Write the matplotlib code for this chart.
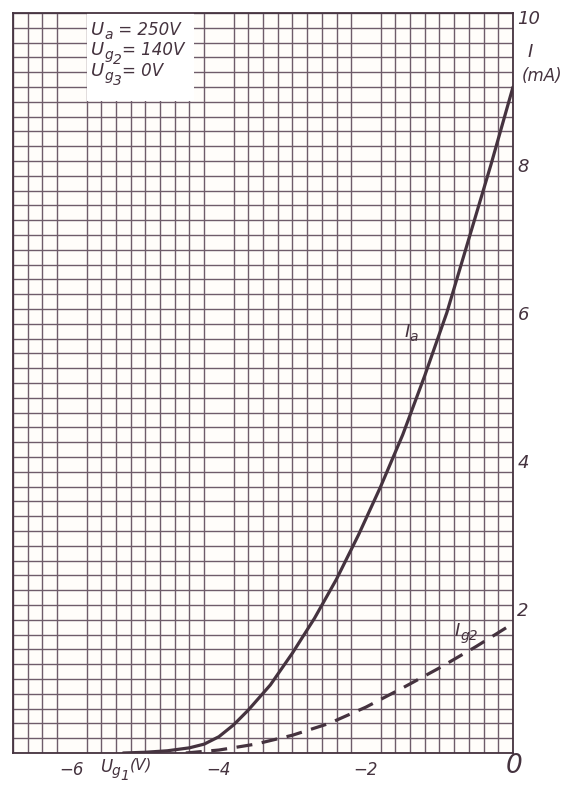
import matplotlib
matplotlib.use("Agg")
import matplotlib.pyplot as plt
import matplotlib.transforms as mtransforms
from matplotlib.patches import Rectangle
import numpy as np

plt.rcParams["font.family"] = ["DejaVu Sans"]

INK = "#45333f"
GRID = "#6e5c6a"

# anode current Ia (mA) vs control grid voltage Ug1 (V)
ug1_a = [-5.3, -5.0, -4.7, -4.4, -4.2, -4.0, -3.8, -3.6, -3.3, -3.0,
         -2.7, -2.4, -2.1, -1.8, -1.5, -1.2, -0.9, -0.6, -0.3, 0.0]
ia = [0.0, 0.01, 0.03, 0.07, 0.12, 0.22, 0.38, 0.58, 0.92, 1.35,
      1.82, 2.35, 2.95, 3.6, 4.3, 5.1, 5.95, 6.95, 7.95, 9.0]

# screen grid current Ig2 (mA)
ug1_g2 = [-4.45, -4.0, -3.5, -3.0, -2.5, -2.0, -1.5, -1.0, -0.5, 0.0]
ig2 = [0.0, 0.04, 0.12, 0.24, 0.40, 0.62, 0.88, 1.15, 1.44, 1.75]

x_ticks = [-6, -4, -2]
x_labels = ["\u22126", "\u22124", "\u22122"]
y_ticks = [2, 4, 6, 8, 10]

fig = plt.figure(figsize=(5.61, 7.87), dpi=100)
ax = fig.add_axes([13 / 561, 34 / 787, 500 / 561, 740 / 787])
ax.set_facecolor("#fffdfa")
ax.set_xlim(-6.8, 0)
ax.set_ylim(0, 10)
renderer = fig.canvas.get_renderer()


def chain(x, y, pieces, **kw):
    # lay out text pieces left to right; each piece is (text, size, drop in px)
    dx = 0
    for s, fs, dy in pieces:
        tr = mtransforms.offset_copy(ax.transData, fig=fig, x=dx, y=dy, units="dots")
        t = ax.text(x, y, s, fontsize=fs, transform=tr, style="italic", color=INK,
                    ha="left", va="baseline", clip_on=False, **kw)
        dx += t.get_window_extent(renderer).width


# graph paper: 0.2 V by 0.2 mA
ax.set_xticks(np.arange(-6.8, 0.01, 0.2), minor=True)
ax.set_yticks(np.arange(0, 10.01, 0.2), minor=True)
ax.grid(which="minor", color=GRID, lw=1.0)
ax.set_axisbelow(True)
ax.tick_params(which="both", length=0)
for s in ax.spines.values():
    s.set_color(INK)
    s.set_linewidth(1.3)

ax.set_xticks(x_ticks)
ax.set_xticklabels(x_labels, fontsize=12, style="italic", color=INK)
ax.tick_params(axis="x", pad=6)
ax.set_yticks([])

# conditions box
ax.add_patch(Rectangle((-5.79, 8.81), 1.45, 1.19, fc="white", ec="none", zorder=1.5))
chain(-5.74, 9.70, [("U", 13, 0), ("a", 10, -4), (" = 250V", 12, 0)], zorder=3)
chain(-5.74, 9.43, [("U", 13, 0), ("g", 10, -4), ("2", 10, -9), ("= 140V", 12, 0)], zorder=3)
chain(-5.74, 9.15, [("U", 13, 0), ("g", 10, -4), ("3", 10, -9), ("= 0V", 12, 0)], zorder=3)

ax.plot(ug1_a, ia, color=INK, lw=2.3, solid_capstyle="round", zorder=3)
ax.plot(ug1_g2, ig2, color=INK, lw=2.3, dashes=(5, 3), zorder=3)

chain(-1.48, 5.62, [("I", 13, 0), ("a", 10, -4)])
chain(-0.79, 1.58, [("I", 13, 0), ("g2", 10, -4)])

# right-hand current scale
for v in y_ticks:
    ax.text(0.06, v - 0.08, str(v), fontsize=13, style="italic", color=INK,
            ha="left", va="center", clip_on=False)
ax.text(0.2, 9.47, "I", fontsize=13, style="italic", color=INK,
        ha="left", va="center", clip_on=False)
ax.text(0.12, 9.15, "(mA)", fontsize=12, style="italic", color=INK,
        ha="left", va="center", clip_on=False)

ax.text(0.02, -0.17, "0", fontsize=19, style="italic", color=INK,
        ha="center", va="center", clip_on=False)
chain(-5.62, -0.25, [("U", 12, 0), ("g", 10, -4), ("1", 10, -9), ("(V)", 11, 2)])

fig.savefig("out.png", dpi=100, facecolor="white")
